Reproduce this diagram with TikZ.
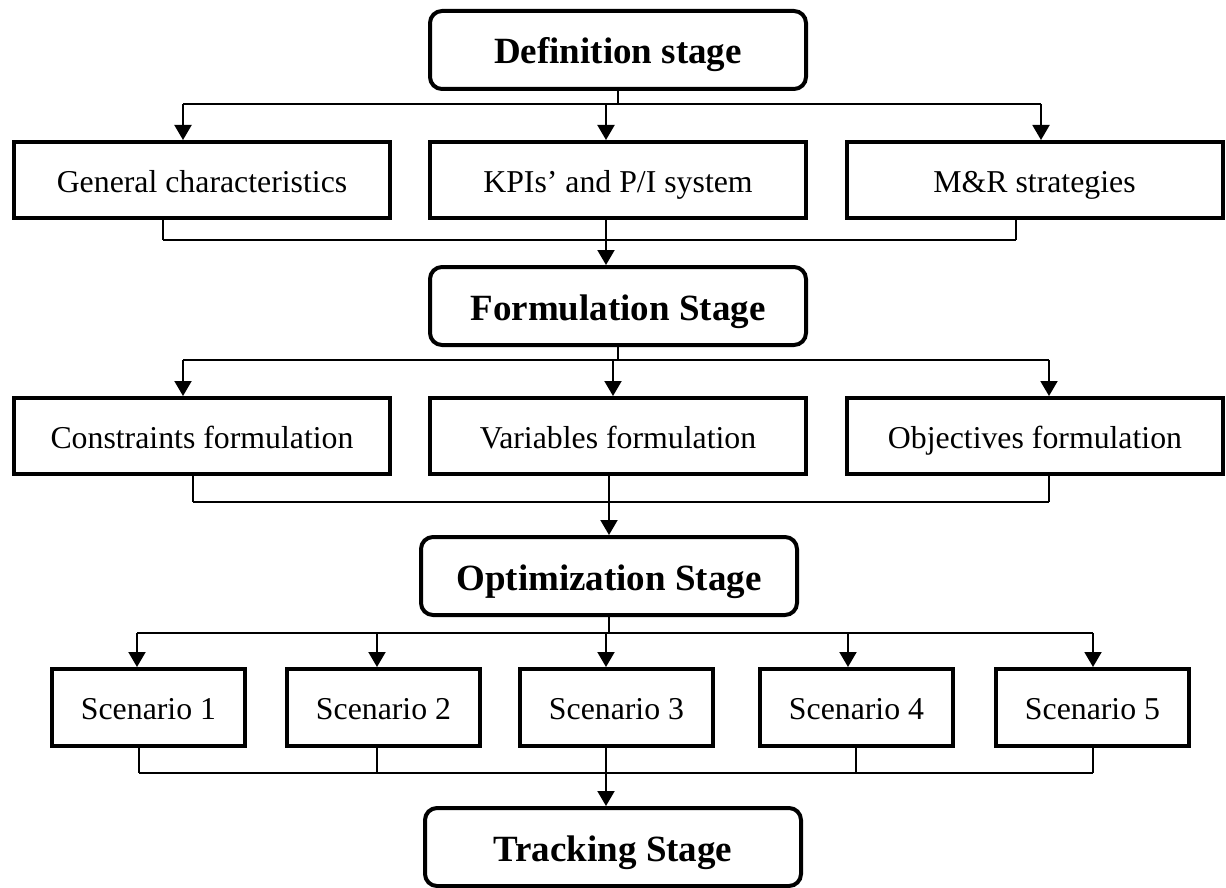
\documentclass[tikz,border=0pt]{standalone}
\usepackage{fontspec}
\setmainfont{Liberation Serif}
\usetikzlibrary{arrows.meta}

\tikzset{
  stagebox/.style={draw, line width=2pt, rounded corners=6pt, minimum width=188pt, minimum height=39pt, inner sep=0pt, text height=16pt, text depth=2pt, font=\fontsize{18.5}{22}\selectfont\bfseries},
  taskbox/.style={draw, line width=2pt, minimum width=188pt, minimum height=38pt, inner sep=0pt, text height=14pt, text depth=2pt, font=\fontsize{15.9}{19}\selectfont},
  scenbox/.style={taskbox, minimum width=96.5pt, minimum height=38.5pt, text height=13.5pt},
  conn/.style={line width=1pt},
  arr/.style={conn, -{Triangle[length=7.5pt,width=8.5pt]}},
}

\begin{document}
\begin{tikzpicture}[x=0.5pt, y=-0.5pt]
\useasboundingbox (0,0) rectangle (1226,888);

% stages and tasks
\node[stagebox] (def) at (618,50) {Definition stage};
\node[taskbox] (gen) at (202,180) {General characteristics};
\node[taskbox] (kpi) at (618,180) {KPIs' and P/I system};
\node[taskbox] (mr) at (1034.5,180) {M\&R strategies};

\node[stagebox] (form) at (618,306) {Formulation Stage};
\node[taskbox] (cons) at (202,436) {Constraints formulation};
\node[taskbox] (vars) at (618,436) {Variables formulation};
\node[taskbox] (obj) at (1035,436) {Objectives formulation};

\node[stagebox] (opt) at (609,576) {Optimization Stage};
\foreach \i/\x in {1/148.5,2/383.5,3/616.5,4/856.5,5/1092.5}
  \node[scenbox] (sc\i) at (\x,707.5) {Scenario \i};

\node[stagebox] (track) at (613,847) {Tracking Stage};

% definition -> first row
\draw[conn] (def.south) -- (def.south |- 0,104);
\draw[conn] (183,104) -- (1041,104);
\foreach \x/\n in {183/gen,606/kpi,1041/mr}
  \draw[arr] (\x,104) -- (\x,104 |- \n.north);
\foreach \x/\n in {163/gen,1016/mr}
  \draw[conn] (\x,0 |- \n.south) -- (\x,240);
\draw[conn] (163,240) -- (1016,240);
\draw[arr] (606,0 |- kpi.south) -- (606,0 |- form.north);

% formulation -> second row
\draw[conn] (form.south) -- (form.south |- 0,360);
\draw[conn] (183,360) -- (1049,360);
\foreach \x/\n in {183/cons,613/vars,1049/obj}
  \draw[arr] (\x,360) -- (\x,360 |- \n.north);
\foreach \x/\n in {193/cons,1049/obj}
  \draw[conn] (\x,0 |- \n.south) -- (\x,502);
\draw[conn] (193,502) -- (1049,502);
\draw[arr] (609,0 |- vars.south) -- (609,0 |- opt.north);

% optimization -> scenarios
\draw[conn] (opt.south) -- (opt.south |- 0,633);
\draw[conn] (137,633) -- (1093,633);
\foreach \x/\i in {137/1,377/2,606/3,848/4,1093/5}
  \draw[arr] (\x,633) -- (\x,633 |- sc\i.north);
\foreach \x/\i in {139/1,377/2,856/4,1093/5}
  \draw[conn] (\x,0 |- sc\i.south) -- (\x,773);
\draw[conn] (139,773) -- (1093,773);
\draw[arr] (606,0 |- sc3.south) -- (606,0 |- track.north);

\end{tikzpicture}
\end{document}
